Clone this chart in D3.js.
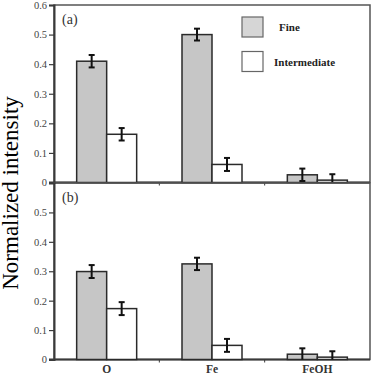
<!DOCTYPE html>
<html>
<head>
<meta charset="utf-8">
<script src="https://cdn.jsdelivr.net/npm/d3@7"></script>
<style>
  body { margin: 0; background: #fff; }
  svg { display: block; }
</style>
</head>
<body>
<div id="chart"></div>
<script>
// elements on the x axis
const categories = ["O", "Fe", "FeOH"];
const seriesNames = ["Fine", "Intermediate"];
const yTicksA = [0, 0.1, 0.2, 0.3, 0.4, 0.5, 0.6];
const yTicksB = [0, 0.1, 0.2, 0.3, 0.4, 0.5];

// panel (a)
const aFine = [0.41, 0.50, 0.026];
const aFineErr = [0.021, 0.02, 0.021];
const aInter = [0.163, 0.061, 0.008];
const aInterErr = [0.021, 0.022, 0.02];

// panel (b)
const bFine = [0.299, 0.325, 0.018];
const bFineErr = [0.022, 0.021, 0.02];
const bInter = [0.173, 0.048, 0.008];
const bInterErr = [0.022, 0.022, 0.02];

const panels = [
    { label: "(a)", top: 5, bottom: 182.5, ticks: yTicksA, fine: aFine, fineErr: aFineErr, inter: aInter, interErr: aInterErr },
    { label: "(b)", top: 183, bottom: 359.5, ticks: yTicksB, fine: bFine, fineErr: bFineErr, inter: bInter, interErr: bInterErr }
];

const width = 376, height = 378;
const left = 54, right = 370;
const fillFine = "#c6c6c6";
const frameColor = "#3a3a3a";
const serif = "'Liberation Serif', 'Times New Roman', 'DejaVu Serif', serif";

const svg = d3.select("#chart")
    .append("svg")
    .attr("width", width)
    .attr("height", height);

var x = d3.scaleBand()
    .domain(categories)
    .range([left, right]);

var xs = d3.scaleBand()
    .domain(seriesNames)
    .range([0, 60]);

panels.forEach(function(p) {
    var y = d3.scaleLinear()
        .domain([0, 0.6])
        .range([p.bottom, p.top]);

    var g = svg.append("g");

    // frame
    g.append("rect")
        .attr("x", left)
        .attr("y", p.top)
        .attr("width", right - left)
        .attr("height", p.bottom - p.top)
        .attr("fill", "none")
        .attr("stroke", "#555")
        .attr("stroke-width", 1.5);

    // y axis
    g.append("g")
        .attr("transform", "translate(" + left + ",0)")
        .call(d3.axisLeft(y).tickValues(p.ticks).tickSize(5).tickPadding(2)
            .tickFormat(function(d) { return d === 0 ? "0" : d3.format(".1f")(d); }))
        .call(a => a.select(".domain").attr("stroke", frameColor).attr("stroke-width", 2))
        .call(a => a.selectAll(".tick line").attr("stroke", frameColor).attr("stroke-width", 1.2))
        .selectAll("text")
            .attr("font-family", serif)
            .attr("font-size", "10.5")
            .attr("fill", "#444");

    // x axis line with small ticks between groups
    g.append("line")
        .attr("x1", left - 5).attr("x2", right)
        .attr("y1", p.bottom).attr("y2", p.bottom)
        .attr("stroke", frameColor)
        .attr("stroke-width", 2);
    g.selectAll("xticks")
        .data(categories.slice(1))
        .enter()
        .append("line")
        .attr("x1", function(d) { return x(d); })
        .attr("x2", function(d) { return x(d); })
        .attr("y1", p.bottom)
        .attr("y2", p.bottom + 3)
        .attr("stroke", frameColor)
        .attr("stroke-width", 1);

    var rows = [];
    categories.forEach(function(c, i) {
        rows.push({ cat: c, s: "Fine", v: p.fine[i], e: p.fineErr[i] });
        rows.push({ cat: c, s: "Intermediate", v: p.inter[i], e: p.interErr[i] });
    });

    var groupOffset = (x.bandwidth() - 60) / 2;

    g.selectAll("bars")
        .data(rows)
        .enter()
        .append("rect")
        .attr("x", function(d) { return x(d.cat) + groupOffset + xs(d.s); })
        .attr("y", function(d) { return y(d.v); })
        .attr("width", xs.bandwidth())
        .attr("height", function(d) { return y(0) - y(d.v); })
        .attr("fill", function(d) { return d.s === "Fine" ? fillFine : "#fff"; })
        .attr("stroke", "#2a2a2a")
        .attr("stroke-width", 1.5);

    // error bars
    var eb = g.selectAll("errs")
        .data(rows)
        .enter()
        .append("g")
        .attr("stroke", "#111")
        .attr("stroke-width", 2);
    var cx = function(d) { return x(d.cat) + groupOffset + xs(d.s) + xs.bandwidth() / 2; };
    eb.append("line")
        .attr("x1", cx).attr("x2", cx)
        .attr("y1", function(d) { return y(d.v + d.e); })
        .attr("y2", function(d) { return Math.min(y(d.v - d.e), y(0)); });
    eb.append("line")
        .attr("x1", function(d) { return cx(d) - 3; })
        .attr("x2", function(d) { return cx(d) + 3; })
        .attr("y1", function(d) { return y(d.v + d.e); })
        .attr("y2", function(d) { return y(d.v + d.e); });
    eb.filter(function(d) { return d.v - d.e > 0; })
        .append("line")
        .attr("x1", function(d) { return cx(d) - 3; })
        .attr("x2", function(d) { return cx(d) + 3; })
        .attr("y1", function(d) { return y(d.v - d.e); })
        .attr("y2", function(d) { return y(d.v - d.e); });

    // panel label
    g.append("text")
        .attr("x", 62)
        .attr("y", p.top + 18.5)
        .attr("font-family", serif)
        .attr("font-size", "14")
        .attr("fill", "#333")
        .text(p.label);
});

// category labels
svg.append("g")
    .selectAll("text")
    .data(categories)
    .enter()
    .append("text")
    .attr("x", function(d) { return x(d) + x.bandwidth() / 2; })
    .attr("y", 373)
    .attr("text-anchor", "middle")
    .attr("font-family", serif)
    .attr("font-weight", "bold")
    .attr("font-size", "11.5")
    .attr("fill", "#333")
    .text(function(d) { return d; });

// legend
var legend = svg.append("g")
    .selectAll("g")
    .data(seriesNames)
    .enter()
    .append("g")
    .attr("transform", function(d, i) { return "translate(242," + (17 + i * 34.5) + ")"; });
legend.append("rect")
    .attr("width", 21)
    .attr("height", 20)
    .attr("fill", function(d) { return d === "Fine" ? "#d6d6d6" : "#fff"; })
    .attr("stroke", "#666")
    .attr("stroke-width", 1.2);
legend.append("text")
    .attr("x", function(d) { return d === "Fine" ? 37 : 32; })
    .attr("y", 14)
    .attr("font-family", serif)
    .attr("font-weight", "bold")
    .attr("font-size", "11")
    .attr("fill", "#222")
    .text(function(d) { return d; });

// y axis title
svg.append("text")
    .attr("transform", "translate(18,193) rotate(-90)")
    .attr("text-anchor", "middle")
    .attr("font-family", serif)
    .attr("font-size", "23")
    .attr("fill", "#000")
    .text("Normalized intensity");
</script>
</body>
</html>
